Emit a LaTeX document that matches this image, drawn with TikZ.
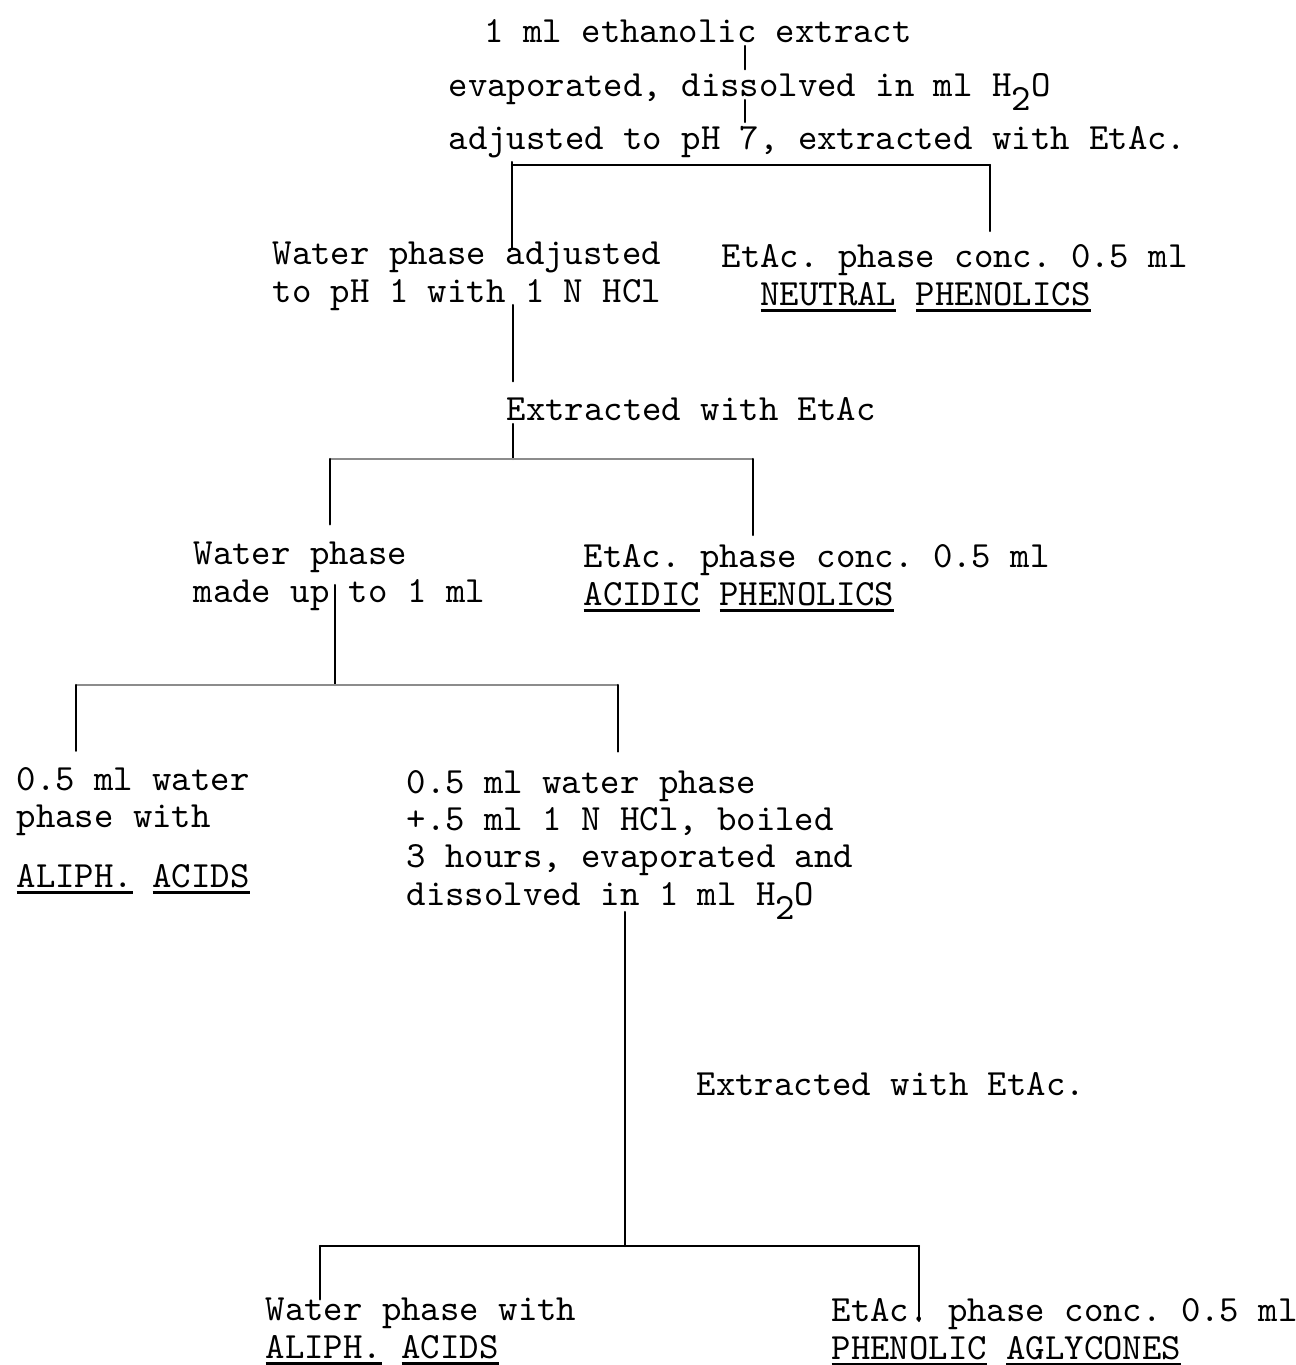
\documentclass[tikz,border=0pt]{standalone}
\usetikzlibrary{calc}
\frenchspacing
\newsavebox{\ulbox}
\newcommand{\ulword}[1]{\sbox{\ulbox}{#1}\rlap{\rule[-0.065cm]{\wd\ulbox}{0.8pt}}\usebox{\ulbox}}
\newcommand{\lowsub}[1]{\raisebox{-0.38em}{#1}}

\begin{document}
\begin{tikzpicture}[
    txt/.style={anchor=base west, align=left, inner sep=0.03cm,
      font=\ttfamily\fontsize{10.52pt}{10.6pt}\selectfont},
    wire/.style={line width=0.6pt, line cap=round},
    faintwire/.style={line width=0.45pt, black!45}
  ]
  \useasboundingbox (0,0) rectangle (12.95,-13.65);

  \node[txt] (extract) at (4.81,-0.42) {1 ml ethanolic extract};
  \node[txt] (evap) at (4.45,-0.96) {evaporated, dissolved in ml H\lowsub{2}O};
  \node[txt] (adjust) at (4.45,-1.49) {adjusted to pH 7, extracted with EtAc.};

  \node[txt] (water1) at (2.69,-3.02) {Water phase adjusted\\to pH 1 with 1 N HCl};
  \node[txt] (etac1) at (7.18,-3.05) {EtAc. phase conc. 0.5 ml\\\phantom{Et}\ulword{NEUTRAL} \ulword{PHENOLICS}};

  \node[txt] (extr2) at (5.03,-4.20) {Extracted with EtAc};

  \node[txt] (water2) at (1.90,-6.02) {Water phase\\made up to 1 ml};
  \node[txt] (etac2) at (5.80,-6.05) {EtAc. phase conc. 0.5 ml\\\ulword{ACIDIC} \ulword{PHENOLICS}};

  \node[txt] (water3) at (0.13,-8.87) {0.5 ml water\\phase with\\[0.22cm]\ulword{ALIPH.} \ulword{ACIDS}};
  \node[txt] (hydrol) at (4.03,-9.05) {0.5 ml water phase\\+.5 ml 1 N HCl, boiled\\3 hours, evaporated and\\dissolved in 1 ml H\lowsub{2}O};

  \node[txt] (extr3) at (6.93,-10.95) {Extracted with EtAc.};

  \node[txt] (water4) at (2.62,-13.58) {Water phase with\\\ulword{ALIPH.} \ulword{ACIDS}};
  \node[txt] (etac4) at (8.28,-13.59) {EtAc. phase conc. 0.5 ml\\\ulword{PHENOLIC} \ulword{AGLYCONES}};

  \coordinate (stemA) at (7.45,-1.00);
  \coordinate (stemB) at (5.13,-3.05);
  \coordinate (stemC) at (3.35,-5.85);
  \coordinate (stemD) at (6.25,-9.12);
  \coordinate (fork1w) at (5.12,-1.65);
  \coordinate (fork1e) at (9.90,-1.65);
  \coordinate (fork2w) at (3.30,-4.59);
  \coordinate (fork2e) at (7.53,-4.59);
  \coordinate (fork3w) at (0.76,-6.85);
  \coordinate (fork3e) at (6.18,-6.85);
  \coordinate (fork4w) at (3.20,-12.46);
  \coordinate (fork4e) at (9.19,-12.46);

  \draw[wire] (extract.south -| stemA) -- (evap.north -| stemA);
  \draw[wire] (stemA) -- (adjust.north -| stemA);

  \draw[wire] (fork1w) -- (fork1e);
  \draw[wire, shorten <=-0.03cm, shorten >=-0.1cm] (fork1w) -- (fork1w |- water1.north);
  \draw[wire, shorten >=0.1cm] (fork1e) -- (fork1e |- etac1.north);

  \draw[wire, shorten >=0.12cm] (stemB) -- (stemB |- extr2.north);
  \draw[wire] (extr2.south -| stemB) -- (stemB |- fork2w);
  \draw[faintwire] (fork2w) -- (fork2e);
  \draw[wire, shorten >=0.14cm] (fork2w) -- (fork2w |- water2.north);
  \draw[wire, shorten >=0.06cm] (fork2e) -- (fork2e |- etac2.north);

  \draw[wire] (stemC) -- (stemC |- fork3w);
  \draw[faintwire] (fork3w) -- (fork3e);
  \draw[wire, shorten >=0.13cm] (fork3w) -- (fork3w |- water3.north);
  \draw[wire, shorten >=0.15cm] (fork3e) -- (fork3e |- hydrol.north);

  \draw[wire] (stemD) -- (stemD |- fork4w);
  \draw[wire] (fork4w) -- (fork4e);
  \draw[wire, shorten >=-0.05cm] (fork4w) -- (fork4w |- water4.north);
  \draw[wire, shorten >=-0.26cm] (fork4e) -- (fork4e |- etac4.north);
\end{tikzpicture}
\end{document}
